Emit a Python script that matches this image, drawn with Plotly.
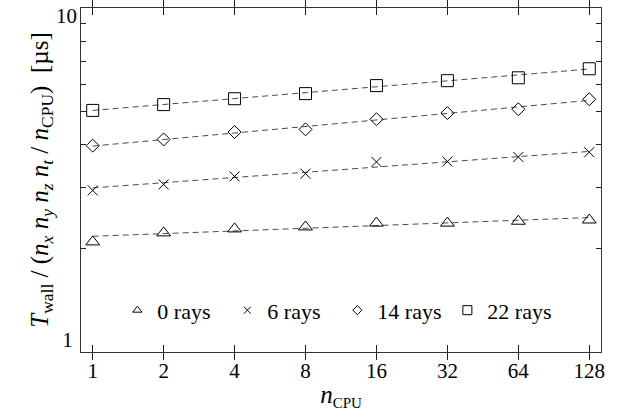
import plotly.graph_objects as go

n_cpu = [1, 2, 4, 8, 16, 32, 64, 128]
x_tick_labels = ["1", "2", "4", "8", "16", "32", "64", "128"]
y_tick_vals = [1, 2, 3, 4, 5, 6, 7, 8, 9, 10]
y_tick_labels = ["1", "", "", "", "", "", "", "", "", ""]
y_top_val = [10]
y_top_label = ["10"]

names = ["0 rays", "6 rays", "14 rays", "22 rays"]
t_0rays = [2.09, 2.22, 2.28, 2.31, 2.37, 2.37, 2.40, 2.42]
t_6rays = [2.95, 3.07, 3.24, 3.30, 3.57, 3.58, 3.69, 3.81]
t_14rays = [3.98, 4.15, 4.36, 4.44, 4.75, 4.95, 5.08, 5.43]
t_22rays = [5.04, 5.24, 5.45, 5.64, 5.95, 6.15, 6.27, 6.66]

# power-law fit lines (end points, at n_CPU = 1 and 128)
fit_x = [1, 128]
fit_0rays = [2.17, 2.46]
fit_6rays = [3.00, 3.83]
fit_14rays = [3.97, 5.39]
fit_22rays = [5.04, 6.65]

series = [t_0rays, t_6rays, t_14rays, t_22rays]
fits = [fit_0rays, fit_6rays, fit_14rays, fit_22rays]
symbols = ["triangle-up-open", "x-thin-open", "diamond-open", "square-open"]
sizes = [12, 10, 10, 12]
leg_sizes = [8, 7, 7, 9]

FONT = "Times New Roman, Liberation Serif, DejaVu Serif, serif"
Y_RANGE = [0, 1.0002]

fig = go.Figure()
for f in fits:
    fig.add_trace(go.Scatter(x=fit_x, y=f, mode="lines", showlegend=False,
                             line=dict(color="#4a4a4a", width=1, dash="6px,4px"),
                             hoverinfo="skip"))
for s, sym, sz in zip(series, symbols, sizes):
    fig.add_trace(go.Scatter(x=n_cpu, y=s, mode="markers", showlegend=False,
                             marker=dict(symbol=sym, size=sz, color="black",
                                         line=dict(color="black", width=1))))
for name, sym, sz in zip(names, symbols, leg_sizes):
    fig.add_trace(go.Scatter(x=[None], y=[None], mode="markers", name=name, yaxis="y2",
                             marker=dict(symbol=sym, size=sz, color="black",
                                         line=dict(color="black", width=1))))

tickfont = dict(family=FONT, size=21, color="black")
axis_common = dict(showline=True, linecolor="#333", linewidth=1, mirror="allticks",
                   ticks="inside", tickcolor="#222", tickwidth=1, showgrid=False,
                   zeroline=False, automargin=False, tickfont=tickfont,
                   ticklabeloverflow="allow")

fig.update_layout(
    width=626, height=416,
    margin=dict(l=81, r=25, t=8, b=64),
    paper_bgcolor="white", plot_bgcolor="white",
    font=dict(family=FONT, size=21, color="black"),
    xaxis=dict(type="log", range=[-0.0497, 2.157], tickvals=n_cpu, ticktext=x_tick_labels,
               ticklen=7,
               title=dict(text="<i>n</i><sub><span style='font-size:15px'>CPU</span></sub>",
                          standoff=3, font=dict(family=FONT, size=25)),
               **axis_common),
    yaxis=dict(type="log", range=Y_RANGE, tickvals=y_tick_vals, ticktext=y_tick_labels,
               ticklen=5, ticklabelposition="outside top", ticklabelshift=3,
               ticklabelstandoff=3,
               title=dict(text="<i>T</i><sub>wall</sub> / (<i>n<sub>x</sub> n<sub>y</sub> n<sub>z</sub> n<sub>t</sub></i> / <i>n</i><sub>CPU</sub>)  [µs]",
                          standoff=6, font=dict(family=FONT, size=25)),
               **axis_common),
    yaxis2=dict(type="log", range=Y_RANGE, overlaying="y", side="left",
                tickvals=y_top_val, ticktext=y_top_label, ticks="",
                ticklabelposition="outside bottom", ticklabeloverflow="allow",
                ticklabelshift=-7, ticklabelstandoff=3,
                showline=False, showgrid=False, zeroline=False, automargin=False,
                tickfont=tickfont),
    legend=dict(orientation="h", x=0.493, xanchor="center", y=0.06, yanchor="bottom",
                bgcolor="rgba(0,0,0,0)", font=dict(family=FONT, size=22),
                itemwidth=30, entrywidth=65, entrywidthmode="pixels",
                traceorder="normal"),
)

fig.write_html("out.html", config={"displayModeBar": False},
               post_script="document.body.style.margin='0';document.body.style.padding='0';")
